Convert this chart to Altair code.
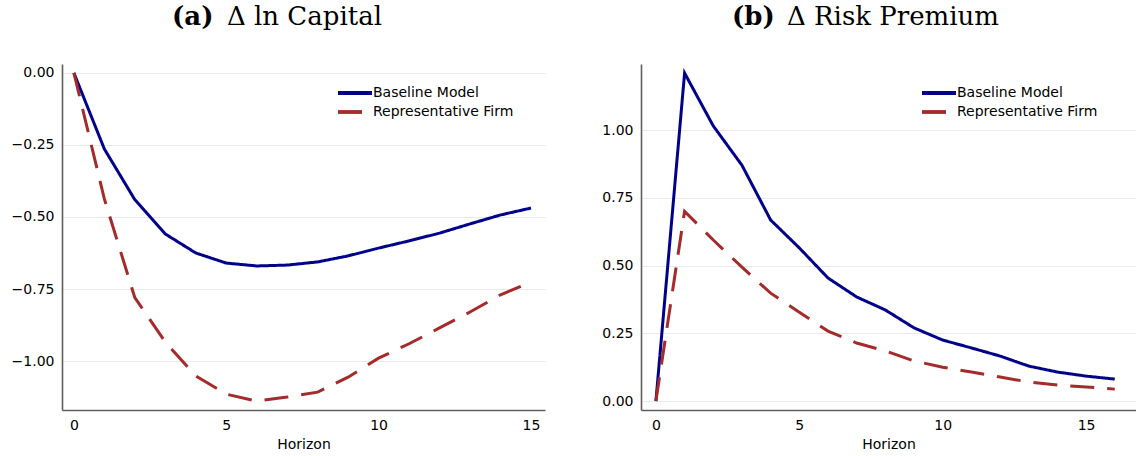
import altair as alt
import pandas as pd

series_names = ["Baseline Model", "Representative Firm"]
series_colors = ["#00008B", "#A52A2A"]

horizon_a = list(range(16))
capital_baseline = [0.0, -0.264, -0.44, -0.559, -0.625, -0.66, -0.67, -0.667, -0.656,
                    -0.635, -0.608, -0.583, -0.556, -0.524, -0.493, -0.469]
capital_rep = [0.0, -0.4375, -0.78, -0.934, -1.052, -1.115, -1.139, -1.125, -1.108,
               -1.056, -0.99, -0.94, -0.885, -0.83, -0.77, -0.726]

horizon_b = list(range(17))
premium_baseline = [0.0, 1.21, 1.015, 0.87, 0.668, 0.565, 0.454, 0.384, 0.336, 0.27,
                    0.225, 0.196, 0.166, 0.129, 0.107, 0.092, 0.081]
premium_rep = [0.0, 0.70, 0.594, 0.494, 0.398, 0.328, 0.258, 0.214, 0.185, 0.148,
               0.125, 0.107, 0.089, 0.07, 0.059, 0.052, 0.044]

x_ticks = [0, 5, 10, 15]
yticks_a = [0.0, -0.25, -0.5, -0.75, -1.0]
yticks_b = [0.0, 0.25, 0.5, 0.75, 1.0]


def panel(h, base, rep, xdom, ydom, yticks, width, bold, rest, tx, tx2, legx):
    df = pd.DataFrame({
        "Horizon": h + h,
        "value": base + rep,
        "series": [series_names[0]] * len(h) + [series_names[1]] * len(h),
    })
    lines = alt.Chart(df).mark_line(strokeWidth=3, clip=True).encode(
        x=alt.X("Horizon:Q",
                scale=alt.Scale(domain=xdom, nice=False, zero=False),
                axis=alt.Axis(values=x_ticks, title="Horizon", grid=False, format="d")),
        y=alt.Y("value:Q",
                scale=alt.Scale(domain=ydom, nice=False, zero=False),
                axis=alt.Axis(values=yticks, format=".2f", title=None, grid=True)),
        color=alt.Color("series:N",
                        scale=alt.Scale(domain=series_names, range=series_colors),
                        legend=alt.Legend(orient="none", legendX=legx, legendY=22,
                                          title=None, padding=0,
                                          symbolType="M-1,0H5.8", symbolSize=100,
                                          symbolStrokeWidth=3.8, symbolDash=[1, 0],
                                          labelOffset=23,
                                          labelFont="DejaVu Sans", labelFontSize=14,
                                          labelColor="black", rowPadding=3)),
        strokeDash=alt.StrokeDash("series:N",
                                  scale=alt.Scale(domain=series_names, range=[[1, 0], [24, 13]]),
                                  legend=None),
        order=alt.Order("Horizon:Q"),
    )
    t1 = alt.Chart(pd.DataFrame({"t": [bold]})).mark_text(
        font="DejaVu Serif", fontSize=26, fontWeight="bold", align="left",
        baseline="alphabetic", color="black").encode(
        x=alt.value(tx), y=alt.value(-39), text="t:N")
    t2 = alt.Chart(pd.DataFrame({"t": [rest]})).mark_text(
        font="DejaVu Serif", fontSize=26, align="left",
        baseline="alphabetic", color="black").encode(
        x=alt.value(tx2), y=alt.value(-39), text="t:N")
    return alt.layer(lines, t1, t2).properties(width=width, height=346)


left = panel(horizon_a, capital_baseline, capital_rep, [-0.39, 15.46], [-1.17, 0.031],
             yticks_a, 483, "(a)", "Δ ln Capital", 110, 165, 274)
right = panel(horizon_b, premium_baseline, premium_rep, [-0.52, 16.74], [-0.033, 1.2435],
              yticks_b, 495, "(b)", "Δ Risk Premium", 91, 146, 279)

chart = alt.hconcat(left, right, spacing=56).resolve_legend(
    color="independent", strokeDash="independent"
).resolve_scale(color="independent", strokeDash="independent").properties(
    padding={"left": 11, "top": 4, "right": 0, "bottom": 0},
    background="white",
).configure_view(stroke=None).configure_axis(
    domainColor="#5f5f5f", domainWidth=1.6, ticks=False,
    gridColor="#e9e9e9", gridWidth=1,
    labelFont="DejaVu Sans", labelFontSize=14, labelColor="black", labelPadding=8,
    titleFont="DejaVu Sans", titleFontSize=14, titleFontWeight="normal",
    titleColor="black", titlePadding=5,
)

chart.save("out.html", embed_options={"renderer": "svg", "actions": False})
